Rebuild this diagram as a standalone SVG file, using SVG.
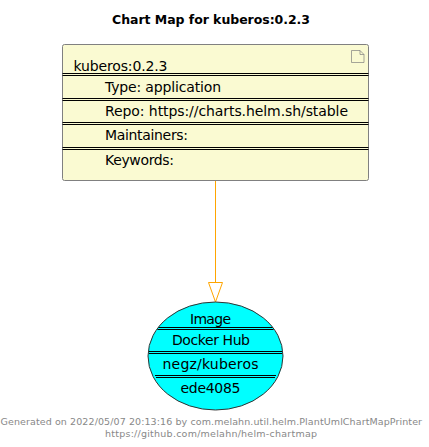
<svg xmlns="http://www.w3.org/2000/svg" width="429" height="447" viewBox="0 0 429 447">
<style>
text{font-family:"DejaVu Sans",sans-serif;fill:#000}
.t{font-size:12.500px;font-weight:bold}
.r{font-size:14px}
.f{font-size:9.500px;fill:#888}
.s{stroke:#000;stroke-width:1;fill:none}
</style>
<rect width="429" height="447" fill="#fff"/>
<text class="t" x="112" y="23.500" textLength="198">Chart Map for kuberos:0.2.3</text>
<g id="connectors">
<line x1="215.500" y1="181" x2="215.500" y2="283" stroke="#ffa500" stroke-width="1"/>
<polygon points="208.500,282.500 222.500,282.500 215.500,302" fill="#fff" stroke="#ffa500" stroke-width="1"/>
</g>
<g id="chart">
<rect x="62.500" y="44.500" width="306" height="136" rx="2" fill="#fafad2" stroke="#808080"/>
<path d="M351.500 50.500h8.500l4 4v8h-12.500z M360 50.500v4h4" fill="#fafad2" stroke="#808080" stroke-width="0.700"/>
<text class="r" x="73.500" y="71" textLength="94">kuberos:0.2.3</text>
<path class="s" d="M62.500 73.500h306M62.500 75.500h306M62.500 98.500h306M62.500 100.500h306M62.500 122.500h306M62.500 124.500h306M62.500 147.500h306M62.500 149.500h306"/>
<text class="r" x="105" y="92" textLength="116">Type: application</text>
<text class="r" x="105" y="116" textLength="243">Repo: https://charts.helm.sh/stable</text>
<text class="r" x="105" y="140" textLength="83">Maintainers:</text>
<text class="r" x="105" y="165" textLength="69">Keywords:</text>
</g>
<g id="image">
<ellipse cx="215.500" cy="356" rx="67.500" ry="54" fill="#00ffff" stroke="#333"/>
<path class="s" d="M158.500 327.500h114M157.500 329.500h116M149 351.500h133M149 353.500h133M155 375.500h121M156 377.500h119"/>
<text class="r" x="190" y="324" textLength="41">Image</text>
<text class="r" x="172" y="344.500" textLength="78">Docker Hub</text>
<text class="r" x="162.500" y="369" textLength="96">negz/kuberos</text>
<text class="r" x="180.500" y="393" textLength="60">ede4085</text>
</g>
<text class="f" x="0.500" y="425" textLength="421.500">Generated on 2022/05/07 20:13:16 by com.melahn.util.helm.PlantUmlChartMapPrinter</text>
<text class="f" x="105" y="437" textLength="212">https://github.com/melahn/helm-chartmap</text>
</svg>
